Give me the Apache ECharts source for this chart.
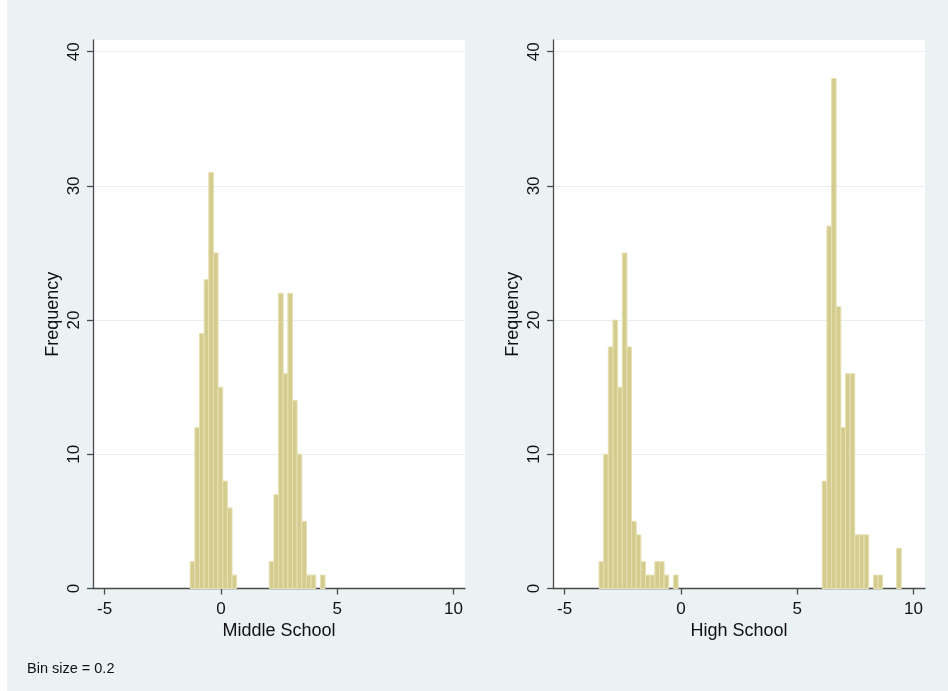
<!DOCTYPE html>
<html>
<head>
<meta charset="utf-8">
<script src="https://cdn.jsdelivr.net/npm/echarts@6/dist/echarts.min.js"></script>
<style>
html,body{margin:0;padding:0;background:#ffffff;}
#chart{width:948px;height:691px;}
</style>
</head>
<body>
<div id="chart"></div>
<script>
// ---- data ----
const binSize = 0.2;
const xTickValues = [-5, 0, 5, 10];
const yTickValues = [0, 10, 20, 30, 40];

const msTitle = 'Middle School';
const msBinStart = -1.32;
const msCounts = [2, 12, 19, 23, 31, 25, 15, 8, 6, 1,
  0, 0, 0, 0, 0, 0, 0,
  2, 7, 22, 16, 22, 14, 10, 5, 1, 1, 0, 1];

const hsTitle = 'High School';
const hsBinStart = -3.52;
const hsCounts = [2, 10, 18, 20, 15, 25, 18, 5, 4, 2, 1, 1, 2, 2, 1, 0, 1,
  0, 0, 0, 0, 0, 0, 0, 0, 0, 0, 0, 0, 0, 0, 0, 0, 0, 0, 0, 0, 0, 0, 0, 0, 0, 0, 0, 0, 0, 0, 0,
  8, 27, 38, 21, 12, 16, 16, 4, 4, 4, 0, 1, 1, 0, 0, 0, 3];

const yTitle = 'Frequency';
const noteText = 'Bin size = 0.2';

// ---- build histogram items [binStart, binEnd, count] ----
function bins(start, counts) {
  const out = [];
  counts.forEach((c, i) => {
    if (c > 0) {
      const a = +(start + i * binSize).toFixed(4);
      out.push([a, +(a + binSize).toFixed(4), c]);
    }
  });
  return out;
}

const FONT = 'Liberation Sans, Arial, sans-serif';
const BG = '#eaf2f3';
const AXIS = '#4a4a4a';
const TXT = '#111111';

function renderBar(params, api) {
  const p0 = api.coord([api.value(0), 0]);
  const p1 = api.coord([api.value(1), api.value(2)]);
  return {
    type: 'rect',
    shape: { x: p0[0], y: p1[1], width: p1[0] - p0[0], height: p0[1] - p1[1] },
    style: { fill: '#d4cc8e', stroke: '#e6e0b2', lineWidth: 1 }
  };
}

function xAxisFor(idx, name) {
  return {
    type: 'value', gridIndex: idx, min: -5.5, max: 10.5,
    name: name, nameLocation: 'middle', nameGap: 29,
    nameTextStyle: { fontFamily: FONT, fontSize: 18, color: TXT },
    axisLine: { show: true, onZero: false, lineStyle: { color: AXIS, width: 1.3 } },
    axisTick: { show: true, length: 6, customValues: xTickValues, lineStyle: { color: AXIS, width: 1.3 } },
    axisLabel: { customValues: xTickValues, margin: 12, fontFamily: FONT, fontSize: 17, color: TXT },
    splitLine: { show: false }
  };
}
function yAxisFor(idx) {
  return {
    type: 'value', gridIndex: idx, min: 0, max: 40.87,
    name: yTitle, nameLocation: 'middle', nameGap: 31, nameRotate: 90,
    nameTextStyle: { fontFamily: FONT, fontSize: 18, color: TXT },
    axisLine: { show: true, onZero: false, lineStyle: { color: AXIS, width: 1.3 } },
    axisTick: { show: true, length: 6, customValues: yTickValues, lineStyle: { color: AXIS, width: 1.3 } },
    axisLabel: { customValues: yTickValues, rotate: 90, margin: 10, fontFamily: FONT, fontSize: 17, color: TXT },
    splitLine: { show: true, lineStyle: { color: '#e6eff1', width: 1.2 } }
  };
}

const chart = echarts.init(document.getElementById('chart'), null, { renderer: 'canvas' });
chart.setOption({
  backgroundColor: '#ffffff',
  animation: false,
  graphic: [
    { type: 'rect', z: -10, silent: true, shape: { x: 7, y: 0, width: 941, height: 691 }, style: { fill: BG } },
    { type: 'text', left: 27, top: 661, style: { text: noteText, font: '14.5px ' + FONT, fill: TXT } }
  ],
  grid: [
    { left: 93, top: 40, width: 372, height: 548.5, show: true, backgroundColor: '#ffffff', borderWidth: 0 },
    { left: 553, top: 40, width: 372, height: 548.5, show: true, backgroundColor: '#ffffff', borderWidth: 0 }
  ],
  xAxis: [xAxisFor(0, msTitle), xAxisFor(1, hsTitle)],
  yAxis: [yAxisFor(0), yAxisFor(1)],
  series: [
    { type: 'custom', xAxisIndex: 0, yAxisIndex: 0, renderItem: renderBar, encode: { x: [0, 1], y: 2 }, data: bins(msBinStart, msCounts) },
    { type: 'custom', xAxisIndex: 1, yAxisIndex: 1, renderItem: renderBar, encode: { x: [0, 1], y: 2 }, data: bins(hsBinStart, hsCounts) }
  ]
});
</script>
</body>
</html>
